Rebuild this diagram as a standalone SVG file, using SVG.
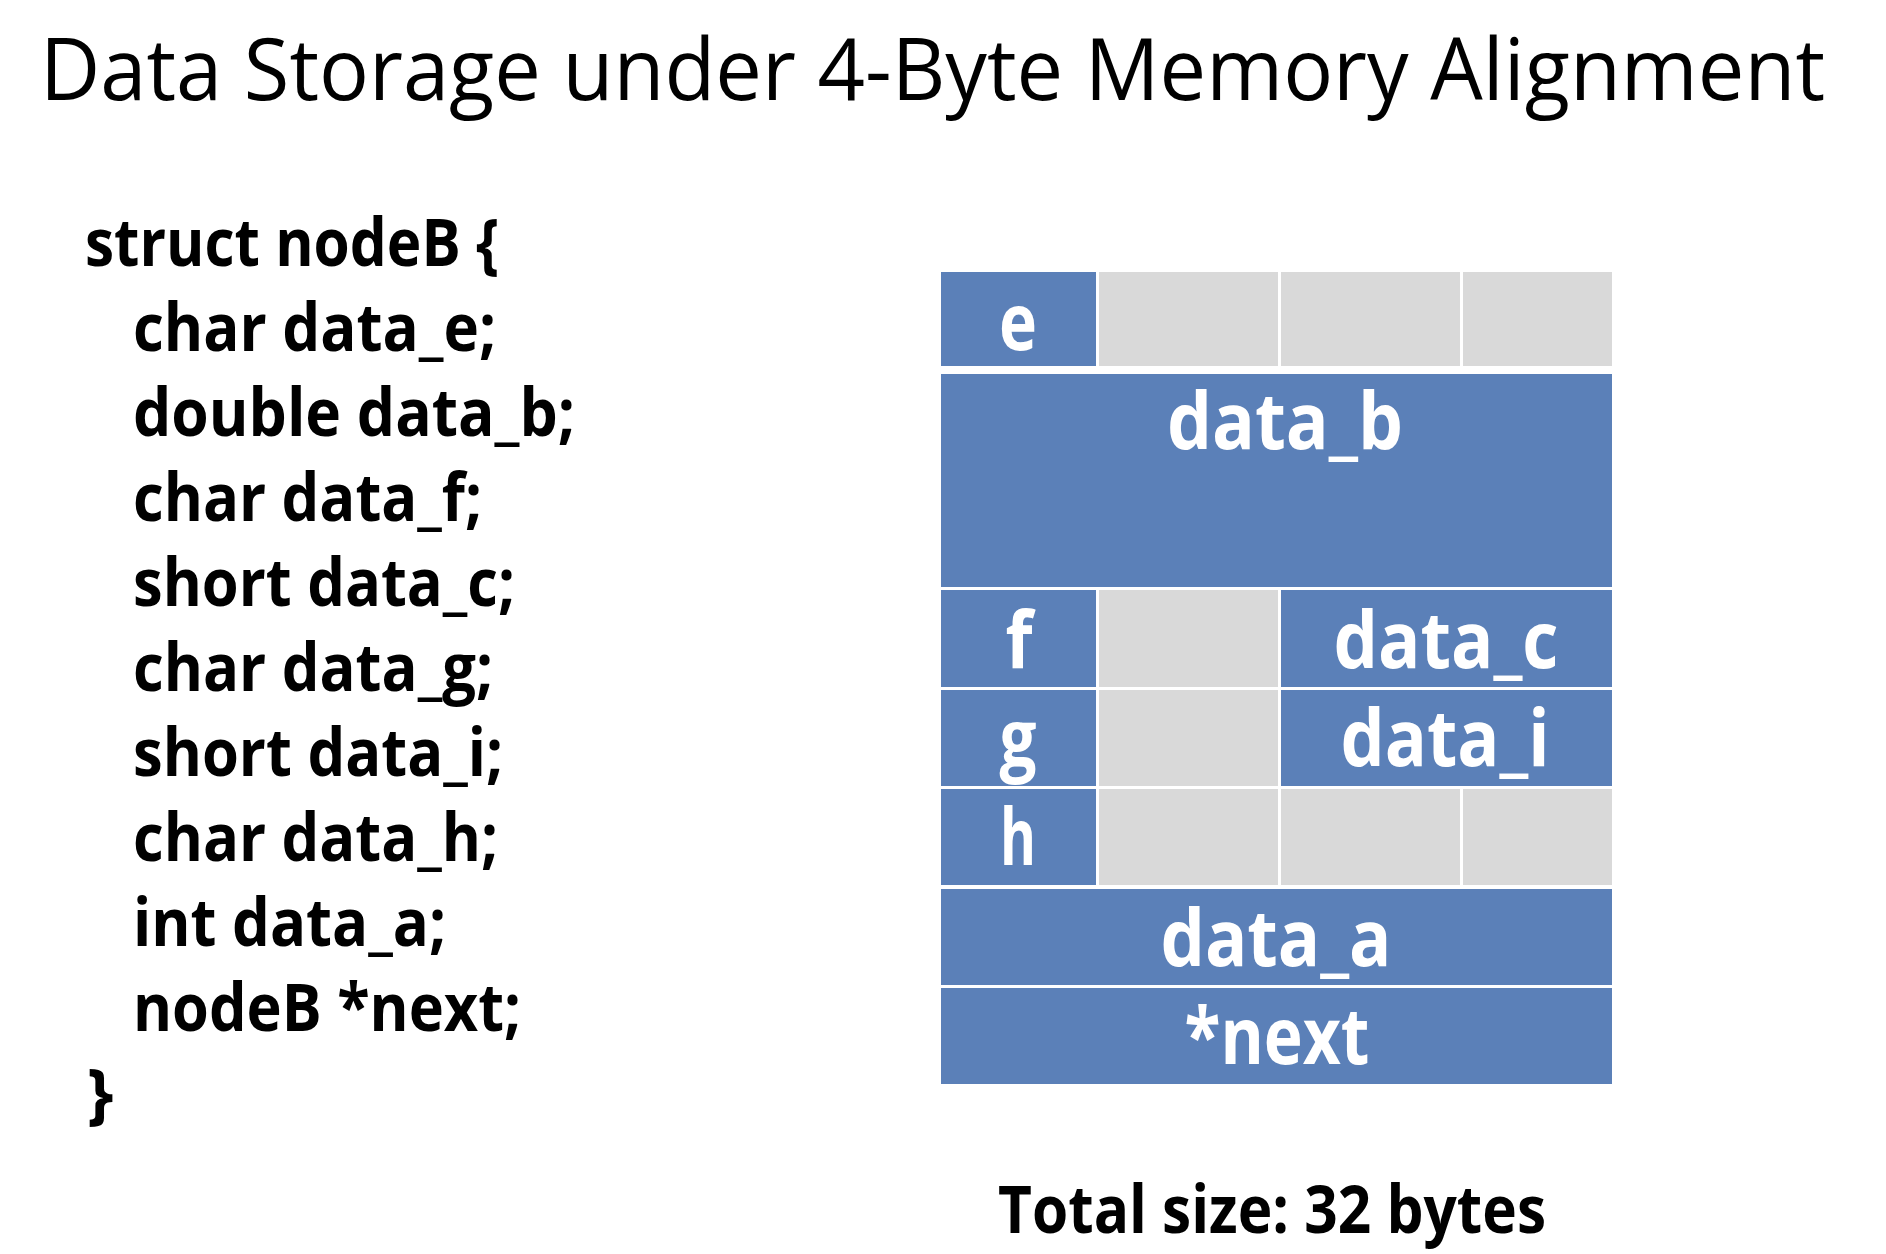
<svg xmlns="http://www.w3.org/2000/svg" width="1886" height="1254" viewBox="0 0 1886 1254">
<style>
.bg{fill:#ffffff}
.blue{fill:#5B80B8}
.gray{fill:#D9D9D9}
.title{font-family:"Open Sans","Noto Sans","Liberation Sans",sans-serif;font-size:86px;fill:#000}
.code{font-family:"Open Sans","Noto Sans","Liberation Sans",sans-serif;font-weight:bold;font-size:67px;fill:#000}
.cell{font-family:"Open Sans","Noto Sans","Liberation Sans",sans-serif;font-weight:bold;font-size:78px;fill:#fff;text-anchor:middle}
.total{font-family:"Open Sans","Noto Sans","Liberation Sans",sans-serif;font-weight:bold;font-size:67px;fill:#000}
</style>
<rect class="bg" x="0" y="0" width="1886" height="1254"/>
<g id="title">
<text class="title" x="40" y="100" textLength="1785" lengthAdjust="spacingAndGlyphs">Data Storage under 4-Byte Memory Alignment</text>
</g>
<g id="code">
<text class="code" x="85" y="266" textLength="414" lengthAdjust="spacingAndGlyphs">struct nodeB {</text>
<text class="code" x="133" y="351" textLength="363" lengthAdjust="spacingAndGlyphs">char data_e;</text>
<text class="code" x="133" y="436" textLength="442" lengthAdjust="spacingAndGlyphs">double data_b;</text>
<text class="code" x="133" y="521" textLength="349" lengthAdjust="spacingAndGlyphs">char data_f;</text>
<text class="code" x="133" y="606" textLength="382" lengthAdjust="spacingAndGlyphs">short data_c;</text>
<text class="code" x="133" y="691" textLength="360" lengthAdjust="spacingAndGlyphs">char data_g;</text>
<text class="code" x="133" y="776" textLength="370" lengthAdjust="spacingAndGlyphs">short data_i;</text>
<text class="code" x="133" y="861" textLength="365" lengthAdjust="spacingAndGlyphs">char data_h;</text>
<text class="code" x="133" y="946" textLength="313" lengthAdjust="spacingAndGlyphs">int data_a;</text>
<text class="code" x="133" y="1031" textLength="388" lengthAdjust="spacingAndGlyphs">nodeB *next;</text>
<text class="code" x="87" y="1116">}</text>
</g>
<g id="row-e">
<rect class="blue" x="941" y="272" width="155" height="94"/>
<rect class="gray" x="1099" y="272" width="179" height="94"/>
<rect class="gray" x="1281" y="272" width="179" height="94"/>
<rect class="gray" x="1463" y="272" width="149" height="94"/>
<text class="cell" x="1018" y="350" textLength="38" lengthAdjust="spacingAndGlyphs">e</text>
</g>
<g id="row-data_b">
<rect class="blue" x="941" y="374" width="671" height="213"/>
<text class="cell" x="1285" y="449" textLength="236" lengthAdjust="spacingAndGlyphs">data_b</text>
</g>
<g id="row-f-c">
<rect class="blue" x="941" y="590" width="155" height="97"/>
<rect class="gray" x="1099" y="590" width="179" height="97"/>
<rect class="blue" x="1281" y="590" width="331" height="97"/>
<text class="cell" x="1019" y="668" textLength="27" lengthAdjust="spacingAndGlyphs">f</text>
<text class="cell" x="1446" y="668" textLength="225" lengthAdjust="spacingAndGlyphs">data_c</text>
</g>
<g id="row-g-i">
<rect class="blue" x="941" y="690" width="155" height="96"/>
<rect class="gray" x="1099" y="690" width="179" height="96"/>
<rect class="blue" x="1281" y="690" width="331" height="96"/>
<text class="cell" x="1018" y="766" textLength="37" lengthAdjust="spacingAndGlyphs">g</text>
<text class="cell" x="1445" y="766" textLength="209" lengthAdjust="spacingAndGlyphs">data_i</text>
</g>
<g id="row-h">
<rect class="blue" x="941" y="789" width="155" height="96"/>
<rect class="gray" x="1099" y="789" width="179" height="96"/>
<rect class="gray" x="1281" y="789" width="179" height="96"/>
<rect class="gray" x="1463" y="789" width="149" height="96"/>
<text class="cell" x="1018" y="865" textLength="36" lengthAdjust="spacingAndGlyphs">h</text>
</g>
<g id="row-data_a">
<rect class="blue" x="941" y="889" width="671" height="96"/>
<text class="cell" x="1276" y="966" textLength="231" lengthAdjust="spacingAndGlyphs">data_a</text>
</g>
<g id="row-next">
<rect class="blue" x="941" y="988" width="671" height="96"/>
<text class="cell" x="1277" y="1064" textLength="185" lengthAdjust="spacingAndGlyphs">*next</text>
</g>
<g id="total">
<text class="total" x="998" y="1233" textLength="548" lengthAdjust="spacingAndGlyphs">Total size: 32 bytes</text>
</g>
</svg>
